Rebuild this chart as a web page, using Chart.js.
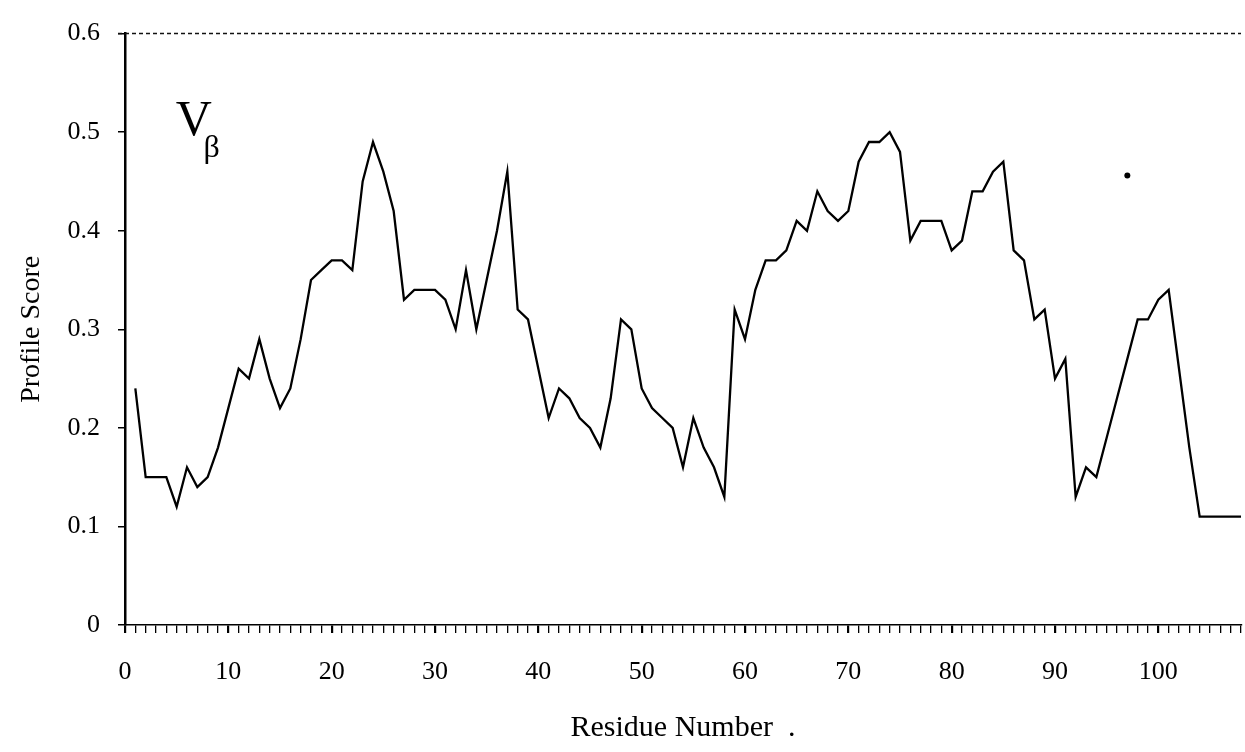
<!DOCTYPE html>
<html>
<head>
<meta charset="utf-8">
<script src="https://cdn.jsdelivr.net/npm/chart.js@4.4.1/dist/chart.umd.min.js"></script>
<style>
  html, body { margin: 0; padding: 0; background: #fff; }
  #wrap { width: 1245px; height: 752px; }
</style>
</head>
<body>
<div id="wrap"><canvas id="myChart" width="1245" height="752"></canvas></div>
<script>
// residue numbers along the sequence
const residues = [
    1, 2, 3, 4, 5, 6, 7, 8, 9, 10,
    11, 12, 13, 14, 15, 16, 17, 18, 19, 20,
    21, 22, 23, 24, 25, 26, 27, 28, 29, 30,
    31, 32, 33, 34, 35, 36, 37, 38, 39, 40,
    41, 42, 43, 44, 45, 46, 47, 48, 49, 50,
    51, 52, 53, 54, 55, 56, 57, 58, 59, 60,
    61, 62, 63, 64, 65, 66, 67, 68, 69, 70,
    71, 72, 73, 74, 75, 76, 77, 78, 79, 80,
    81, 82, 83, 84, 85, 86, 87, 88, 89, 90,
    91, 92, 93, 94, 95, 96, 97, 98, 99, 100,
    101, 102, 103, 104, 105, 106, 107, 108
];
// profile score
const scores = [
    0.24, 0.15, 0.15, 0.15, 0.12, 0.16, 0.14, 0.15, 0.18, 0.22,
    0.26, 0.25, 0.29, 0.25, 0.22, 0.24, 0.29, 0.35, 0.36, 0.37,
    0.37, 0.36, 0.45, 0.49, 0.46, 0.42, 0.33, 0.34, 0.34, 0.34,
    0.33, 0.30, 0.36, 0.30, 0.35, 0.40, 0.46, 0.32, 0.31, 0.26,
    0.21, 0.24, 0.23, 0.21, 0.20, 0.18, 0.23, 0.31, 0.30, 0.24,
    0.22, 0.21, 0.20, 0.16, 0.21, 0.18, 0.16, 0.13, 0.32, 0.29,
    0.34, 0.37, 0.37, 0.38, 0.41, 0.40, 0.44, 0.42, 0.41, 0.42,
    0.47, 0.49, 0.49, 0.50, 0.48, 0.39, 0.41, 0.41, 0.41, 0.38,
    0.39, 0.44, 0.44, 0.46, 0.47, 0.38, 0.37, 0.31, 0.32, 0.25,
    0.27, 0.13, 0.16, 0.15, 0.19, 0.23, 0.27, 0.31, 0.31, 0.33,
    0.34, 0.26, 0.18, 0.11, 0.11, 0.11, 0.11, 0.11
];
// lone speck printed in the upper right of the panel
const speckX = [97];
const speckY = [0.456];

const xLabels = [0, 10, 20, 30, 40, 50, 60, 70, 80, 90, 100];
const yTicks = [0, 0.1, 0.2, 0.3, 0.4, 0.5, 0.6];

const serif = "'Liberation Serif', 'Times New Roman', serif";

const decor = {
    id: 'decor',
    afterDraw(chart) {
        const { ctx, chartArea, scales } = chart;
        ctx.save();
        // dotted frame line along the top
        ctx.strokeStyle = '#111';
        ctx.lineWidth = 1.5;
        ctx.setLineDash([4, 3]);
        ctx.beginPath();
        ctx.moveTo(chartArea.left - 7, chartArea.top);
        ctx.lineTo(chartArea.right, chartArea.top);
        ctx.stroke();
        ctx.setLineDash([]);
        // panel label V beta
        ctx.fillStyle = '#000';
        ctx.textBaseline = 'alphabetic';
        ctx.font = '50px ' + serif;
        ctx.fillText('V', scales.x.getPixelForValue(4.9), scales.y.getPixelForValue(0.497));
        ctx.font = '32px ' + serif;
        ctx.fillText('β', scales.x.getPixelForValue(7.6), scales.y.getPixelForValue(0.475));
        ctx.restore();
    }
};

const ctx = document.getElementById('myChart').getContext('2d');
const chart = new Chart(ctx, {
    type: 'line',
    data: {
        datasets: [{
            label: 'Profile Score',
            data: residues.map((r, i) => ({ x: r, y: scores[i] })),
            borderColor: '#000',
            borderWidth: 2.3,
            pointRadius: 0,
            tension: 0,
            fill: false
        }, {
            label: 'speck',
            data: speckX.map((r, i) => ({ x: r, y: speckY[i] })),
            showLine: false,
            pointRadius: 3,
            pointBackgroundColor: '#000',
            pointBorderWidth: 0
        }]
    },
    options: {
        responsive: false,
        animation: false,
        devicePixelRatio: 1,
        layout: { padding: { top: 25, right: 0, left: 0, bottom: 0 } },
        plugins: {
            legend: { display: false },
            tooltip: { enabled: false }
        },
        scales: {
            x: {
                type: 'linear',
                min: 0,
                max: 108,
                afterFit: (s) => { s.height = 127; s.paddingRight = 0; s.paddingLeft = 0; },
                ticks: {
                    stepSize: 1,
                    autoSkip: false,
                    maxRotation: 0,
                    padding: 24,
                    color: '#000',
                    font: { family: serif, size: 26 },
                    callback: (v) => xLabels.includes(v) ? String(v) : ''
                },
                grid: {
                    drawOnChartArea: false,
                    drawTicks: true,
                    tickLength: 8,
                    color: '#000',
                    lineWidth: (c) => (c.tick && c.tick.value % 10 === 0) ? 2.2 : 1.3
                },
                border: { display: true, color: '#000', width: 1.5 },
                title: {
                    display: true,
                    text: 'Residue Number  .',
                    color: '#000',
                    font: { family: serif, size: 30 },
                    padding: { top: 0, bottom: 6 }
                }
            },
            y: {
                min: 0,
                max: 0.6,
                afterFit: (s) => { s.width = 125; },
                afterBuildTicks: (s) => { s.ticks = yTicks.map(v => ({ value: v })); },
                ticks: {
                    padding: 18,
                    color: '#000',
                    font: { family: serif, size: 26 },
                    callback: (v) => v === 0 ? '0' : v.toFixed(1)
                },
                grid: {
                    drawOnChartArea: false,
                    drawTicks: true,
                    tickLength: 7,
                    color: '#000',
                    lineWidth: 1.5
                },
                border: { display: true, color: '#000', width: 2.5 },
                title: {
                    display: true,
                    text: 'Profile Score',
                    color: '#000',
                    font: { family: serif, size: 28 },
                    padding: { top: 15, bottom: 0 }
                }
            }
        }
    },
    plugins: [decor]
});
</script>
</body>
</html>
